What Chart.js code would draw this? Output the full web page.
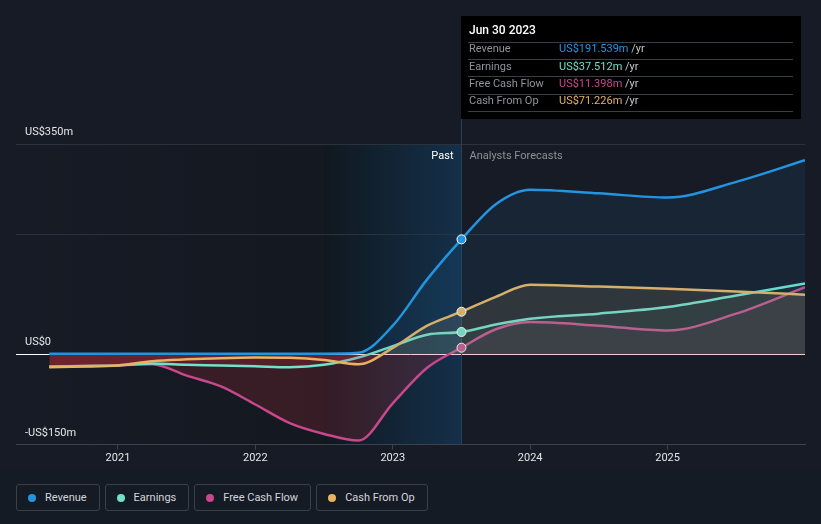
<!DOCTYPE html>
<html>
<head>
<meta charset="utf-8">
<script src="https://cdn.jsdelivr.net/npm/chart.js@4/dist/chart.umd.min.js"></script>
<style>
  body { margin: 0; background: #151b25; font-family: Roboto, sans-serif; }
  #wrap { position: relative; width: 821px; height: 524px; }
  #legend { position: absolute; left: 16px; top: 484px; display: flex; gap: 5px; }
  .item { display: flex; align-items: center; height: 25px; padding: 0 12px 0 11px;
          border: 1px solid #3a404a; border-radius: 3px; color: #d4d6da; font-size: 11px; }
  .dot { width: 8px; height: 8px; border-radius: 50%; margin-right: 9px; }
</style>
</head>
<body>
<div id="wrap">
  <canvas id="chart" width="821" height="470"></canvas>
  <div id="legend"></div>
</div>
<script>
// decimal years, past quarterly then forecasts
const dates = [2020.5, 2020.75, 2021, 2021.25, 2021.5, 2021.75, 2022, 2022.25, 2022.5, 2022.75,
               2023, 2023.25, 2023.5, 2023.75, 2024, 2024.5, 2025, 2025.5, 2026];
const revenue = [1.5, 1.5, 1.5, 1.5, 1.5, 1.5, 1.5, 1.5, 1.5, 3,
                 48, 125, 191.539, 250, 274, 268, 261, 287, 323];
const earnings = [-20, -19, -18, -15, -17, -18, -19.5, -21, -17, -5,
                  14, 33, 37.512, 50, 59.5, 68, 79, 98, 118];
const freeCashFlow = [-20, -19, -18, -16, -35, -53, -83, -114, -132, -143,
                      -81, -22, 11.398, 42, 54, 48, 40, 68, 112];
const cashFromOp = [-21, -20, -18, -11, -8, -6, -5, -5.5, -9, -16,
                    11, 48, 71.226, 96, 116, 113, 109.5, 105, 99.5];

const seriesNames = ["Revenue", "Earnings", "Free Cash Flow", "Cash From Op"];
const seriesColors = ["#2394df", "#70e2c9", "#c8488b", "#e7b261"];
const fillAlpha = [0.09, 0.05, 0.07, 0.13];
const drawOrder = [1, 3, 4, 2];

const yearTicks = [2021, 2022, 2023, 2024, 2025];
const yTickValues = [-150, 0, 200, 350];
const yTickLabels = ["-US$150m", "US$0", "", "US$350m"];

const currentDate = 2023.5;
const pastStart = 2022.5;
const currentLabel = "Jun 30 2023";

const allSeries = [revenue, earnings, freeCashFlow, cashFromOp];
const nowIndex = dates.indexOf(currentDate);

function rgba(hex, a) {
  const n = parseInt(hex.slice(1), 16);
  return `rgba(${n >> 16}, ${(n >> 8) & 255}, ${n & 255}, ${a})`;
}

const decor = {
  id: "decor",
  beforeDraw(chart) {
    const { ctx, chartArea: a, scales: { x } } = chart;
    const bandL = x.getPixelForValue(pastStart);
    const now = x.getPixelForValue(currentDate);
    ctx.save();
    ctx.fillStyle = "#161b25";
    ctx.fillRect(0, 0, chart.width, chart.height);
    let g = ctx.createLinearGradient(a.left, 0, bandL, 0);
    g.addColorStop(0, "rgba(0,0,0,0)");
    g.addColorStop(1, "rgba(0,0,0,0.12)");
    ctx.fillStyle = g;
    ctx.fillRect(a.left, a.top, bandL - a.left, a.bottom - a.top);
    g = ctx.createLinearGradient(bandL, 0, now, 0);
    g.addColorStop(0, "#10181f");
    g.addColorStop(1, "#14304a");
    ctx.fillStyle = g;
    ctx.fillRect(bandL, a.top, now - bandL, a.bottom - a.top);
    ctx.restore();
  },
  beforeDatasetsDraw(chart) {
    const { ctx, chartArea: a, scales: { x } } = chart;
    const now = Math.round(x.getPixelForValue(currentDate)) + 0.5;
    ctx.save();
    ctx.strokeStyle = "#23405a";
    ctx.lineWidth = 1;
    ctx.beginPath();
    ctx.moveTo(now, 16);
    ctx.lineTo(now, a.bottom);
    ctx.stroke();
    ctx.font = "11px Roboto";
    ctx.textBaseline = "middle";
    ctx.textAlign = "right";
    ctx.fillStyle = "#ffffff";
    ctx.fillText("Past", now - 8, 156);
    ctx.textAlign = "left";
    ctx.fillStyle = "#8c9097";
    ctx.fillText("Analysts Forecasts", now + 8, 156);
    ctx.restore();
  },
  afterDraw(chart) {
    const { ctx, scales: { x } } = chart;
    const left = Math.round(x.getPixelForValue(currentDate));
    ctx.save();
    ctx.fillStyle = "#000000";
    ctx.fillRect(left, 16, 340, 103);
    ctx.textBaseline = "middle";
    ctx.fillStyle = "#ffffff";
    ctx.font = "500 12px Roboto";
    ctx.fillText(currentLabel, left + 8, 31);
    ctx.strokeStyle = "#3a3f46";
    ctx.lineWidth = 1;
    for (let i = 0; i < 5; i++) {
      const y = Math.round(41.7 + 17.3 * i) + 0.5;
      ctx.beginPath();
      ctx.moveTo(left + 7, y);
      ctx.lineTo(left + 332, y);
      ctx.stroke();
    }
    ctx.font = "11px Roboto";
    for (let i = 0; i < seriesNames.length; i++) {
      const y = 49.5 + 17.3 * i;
      ctx.fillStyle = "#8f939a";
      ctx.fillText(seriesNames[i], left + 8, y);
      const v = "US$" + allSeries[i][nowIndex].toFixed(3) + "m";
      ctx.fillStyle = seriesColors[i];
      ctx.fillText(v, left + 98, y);
      const w = ctx.measureText(v + " ").width;
      ctx.fillStyle = "#c4c6ca";
      ctx.fillText("/yr", left + 98 + w, y);
    }
    ctx.restore();
  }
};

const datasets = allSeries.map((vals, i) => ({
  label: seriesNames[i],
  data: dates.map((d, j) => ({ x: d, y: vals[j] })),
  borderColor: seriesColors[i],
  borderWidth: 2.5,
  cubicInterpolationMode: "monotone",
  fill: { target: "origin", above: rgba(seriesColors[i], fillAlpha[i]), below: "rgba(200, 45, 60, 0.2)" },
  order: drawOrder[i],
  pointRadius: (ctx) => (ctx.dataIndex === nowIndex ? 4.5 : 0),
  pointHoverRadius: 0,
  pointBackgroundColor: seriesColors[i],
  pointBorderColor: "#ffffff",
  pointBorderWidth: 1
}));

new Chart(document.getElementById("chart"), {
  type: "line",
  data: { datasets },
  options: {
    responsive: false,
    animation: false,
    events: [],
    layout: { padding: { left: 16, right: 16, top: 144, bottom: 3 } },
    plugins: { legend: { display: false }, tooltip: { enabled: false } },
    scales: {
      x: {
        type: "linear",
        min: 2020.258,
        max: 2026,
        afterBuildTicks: (scale) => { scale.ticks = yearTicks.map((v) => ({ value: v })); },
        grid: { drawOnChartArea: false, drawTicks: true, tickLength: 5, color: "#3d434d" },
        border: { color: "#3d434d" },
        ticks: { color: "#e4e6ea", font: { family: "Roboto", size: 11 }, padding: 2,
                 autoSkip: false, maxRotation: 0, callback: (v) => String(v) }
      },
      y: {
        min: -150,
        max: 350,
        afterBuildTicks: (scale) => { scale.ticks = yTickValues.map((v) => ({ value: v })); },
        afterFit: (scale) => { scale.width = 0; },
        border: { display: false },
        grid: {
          drawTicks: false,
          color: (c) => (c.tick.value === 0 ? "#ffffff" : c.tick.value === -150 ? "#3d434d" : "#2c323c")
        },
        ticks: {
          mirror: true, padding: 9, labelOffset: -12, autoSkip: false,
          color: "#e4e6ea", font: { family: "Roboto", size: 11 },
          callback: (v) => yTickLabels[yTickValues.indexOf(v)]
        }
      }
    }
  },
  plugins: [decor]
});

const legend = document.getElementById("legend");
seriesNames.forEach((name, i) => {
  const el = document.createElement("div");
  el.className = "item";
  el.innerHTML = `<span class="dot" style="background:${seriesColors[i]}"></span>${name}`;
  legend.appendChild(el);
});
</script>
</body>
</html>
